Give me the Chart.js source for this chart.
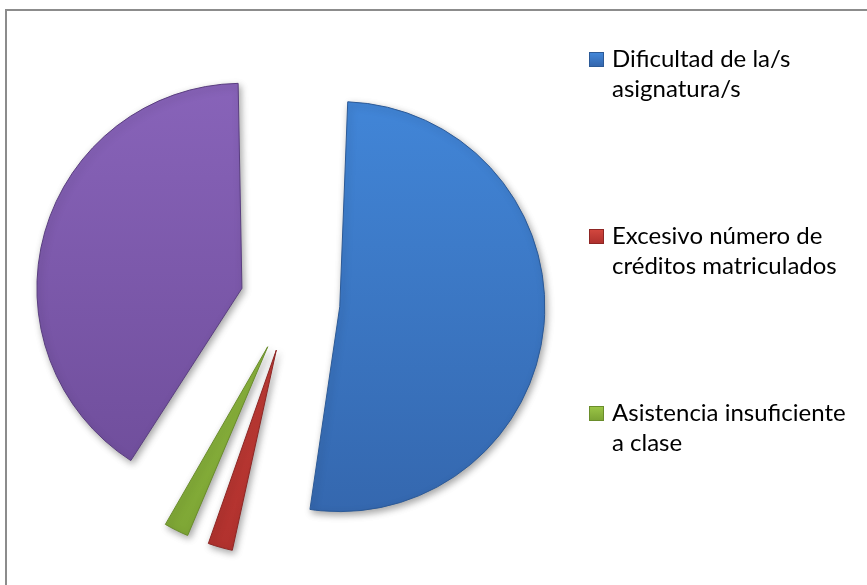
<!DOCTYPE html>
<html>
<head>
<meta charset="utf-8">
<script src="https://cdn.jsdelivr.net/npm/chart.js@4/dist/chart.umd.min.js"></script>
<style>
  html, body { margin: 0; padding: 0; background: #fff; }
  #wrap { width: 867px; height: 585px; }
</style>
</head>
<body>
<div id="wrap"><canvas id="myChart" width="867" height="585"></canvas></div>
<script>
// categories (legend text, split into lines) and values
labels = [
    ['Dificultad de la/s', 'asignatura/s'],
    ['Excesivo número de', 'créditos matriculados'],
    ['Asistencia insuficiente', 'a clase'],
    ['Otros motivos']
];
values = [36, 2, 2, 28];
legend_count = 3;   // only the first three show in the legend

top_colors = ['#4389dc', '#d4483f', '#9cc647', '#8b66bd'];
bottom_colors = ['#3364aa', '#ad2f2c', '#7aa233', '#6b4a96'];
edge_colors = ['#2c5a97', '#8e2624', '#6a8d2b', '#5a3e80'];

var EXPLODE = 50;   // px each slice is pulled out
var RADIUS = 205;

function sliceGradient(ctx) {
    var chart = ctx.chart;
    var i = ctx.dataIndex;
    var area = chart.chartArea;
    if (!area) return top_colors[i];
    var cy = (area.top + area.bottom) / 2;
    var g = chart.ctx.createLinearGradient(0, cy - RADIUS - EXPLODE, 0, cy + RADIUS + EXPLODE);
    g.addColorStop(0, top_colors[i]);
    g.addColorStop(1, bottom_colors[i]);
    return g;
}

// chart.js translates an arc by offset/4 and also grows its radius by offset/4*fix,
// so after update shrink each arc back so all slices keep the same radius
var explodePlugin = {
    id: 'explodeFix',
    afterDatasetUpdate: function (chart, args) {
        var arcs = args.meta.data;
        for (var k = 0; k < arcs.length; k++) {
            var circ = arcs[k].circumference;
            var fix = 1 - Math.sin(Math.min(Math.PI, circ || 0));
            arcs[k].outerRadius = RADIUS - EXPLODE * fix;
        }
    }
};

var framePlugin = {
    id: 'frame',
    beforeDraw: function (chart) {
        var c = chart.ctx;
        c.save();
        c.fillStyle = '#ffffff';
        c.fillRect(0, 0, chart.width, chart.height);
        c.strokeStyle = '#8c8c8c';
        c.lineWidth = 2;
        c.strokeRect(6, 10, chart.width + 20, chart.height + 20);
        c.restore();
    },
    beforeDatasetsDraw: function (chart) {
        var c = chart.ctx;
        c.save();
        c.shadowColor = 'rgba(0,0,0,0.35)';
        c.shadowBlur = 7;
        c.shadowOffsetX = 2;
        c.shadowOffsetY = 3;
    },
    afterDatasetsDraw: function (chart) {
        chart.ctx.restore();
    }
};

var legendPlugin = {
    id: 'sideLegend',
    afterDraw: function (chart) {
        var c = chart.ctx;
        var x = 589, textX = 612, baseY = 67, step = 177, lineH = 30;
        c.save();
        c.font = '24px Lato';
        c.fillStyle = '#000';
        c.textBaseline = 'alphabetic';
        for (var i = 0; i < legend_count; i++) {
            var y = baseY + i * step;
            var g = c.createLinearGradient(0, y - 15, 0, y);
            g.addColorStop(0, top_colors[i]);
            g.addColorStop(1, bottom_colors[i]);
            c.fillStyle = g;
            c.fillRect(x, y - 15, 15, 15);
            c.strokeStyle = edge_colors[i];
            c.lineWidth = 1;
            c.strokeRect(x + 0.5, y - 14.5, 14, 14);
            c.fillStyle = '#000';
            var lines = labels[i];
            for (var j = 0; j < lines.length; j++) {
                c.fillText(lines[j], textX, y + j * lineH);
            }
        }
        c.restore();
    }
};

var ctx = document.getElementById('myChart').getContext('2d');
var myPie = new Chart(ctx, {
    type: 'pie',
    data: {
        labels: labels,
        datasets: [{
            data: values,
            backgroundColor: sliceGradient,
            borderColor: edge_colors,
            borderWidth: 1,
            offset: EXPLODE * 4,
            radius: RADIUS,
            clip: false
        }]
    },
    options: {
        responsive: false,
        animation: false,
        events: [],
        layout: { padding: { left: 0, right: 287, top: 19, bottom: 0 } },
        plugins: {
            legend: { display: false },
            tooltip: { enabled: false }
        }
    },
    plugins: [explodePlugin, framePlugin, legendPlugin]
});
</script>
</body>
</html>
